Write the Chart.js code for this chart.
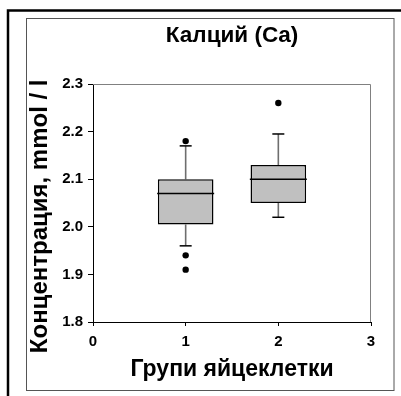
<!DOCTYPE html>
<html>
<head>
<meta charset="utf-8">
<script src="https://cdn.jsdelivr.net/npm/chart.js@4.4.0/dist/chart.umd.min.js"></script>
<style>
  html, body { margin: 0; padding: 0; background: #fff; }
  #wrap { width: 401px; height: 396px; }
</style>
</head>
<body>
<div id="wrap"><canvas id="chart" width="401" height="396"></canvas></div>
<script>
// values
const groups = [1, 2];
const q1 = [2.005, 2.05];
const median = [2.07, 2.10];
const q3 = [2.10, 2.13];
const whiskerLow = [1.96, 2.02];
const whiskerHigh = [2.17, 2.195];
const outlierGroup = [1, 1, 1, 2];
const outlierValue = [2.18, 1.94, 1.91, 2.26];

const titleText = "Калций (Ca)";
const xTitle = "Групи яйцеклетки";
// trailing spaces push the rotated title a bit lower, as in the original
const yTitle = "Концентрация, mmol / l    ";

Chart.defaults.font.family = "'Liberation Sans', Arial, sans-serif";
Chart.defaults.font.weight = "bold";
Chart.defaults.color = "#000";

// whisker segments, split by null so they are not joined
const whiskerPoints = [];
groups.forEach((g, i) => {
    whiskerPoints.push({ x: g, y: q3[i] }, { x: g, y: whiskerHigh[i] }, { x: g, y: null });
    whiskerPoints.push({ x: g, y: q1[i] }, { x: g, y: whiskerLow[i] }, { x: g, y: null });
});
const capPoints = [];
groups.forEach((g, i) => {
    capPoints.push({ x: g, y: whiskerHigh[i] }, { x: g, y: whiskerLow[i] });
});

// frames round the picture and the plot
const framePlugin = {
    id: "frames",
    beforeDraw(chart) {
        const ctx = chart.ctx;
        ctx.save();
        ctx.fillStyle = "#fff";
        ctx.fillRect(0, 0, chart.width, chart.height);
        ctx.strokeStyle = "#000";
        ctx.lineWidth = 2.5;
        ctx.beginPath();
        ctx.moveTo(8, chart.height);
        ctx.lineTo(8, 10.5);
        ctx.lineTo(chart.width, 10.5);
        ctx.stroke();
        ctx.strokeStyle = "#555";
        ctx.lineWidth = 1;
        ctx.strokeRect(26.5, 18.5, 367.5, 372);
        ctx.restore();
    },
    beforeDatasetsDraw(chart) {
        const { ctx, chartArea: a } = chart;
        ctx.save();
        ctx.strokeStyle = "#808080";
        ctx.lineWidth = 1;
        ctx.beginPath();
        ctx.moveTo(a.left, a.top + 0.5);
        ctx.lineTo(a.right - 0.5, a.top + 0.5);
        ctx.lineTo(a.right - 0.5, a.bottom);
        ctx.stroke();
        ctx.restore();
    }
};

new Chart(document.getElementById("chart"), {
    type: "bar",
    data: {
        datasets: [
            {
                label: "outliers",
                type: "line",
                showLine: false,
                data: outlierGroup.map((g, i) => ({ x: g, y: outlierValue[i] })),
                pointStyle: "circle",
                pointRadius: 3.2,
                backgroundColor: "#000",
                borderColor: "#000",
                borderWidth: 0,
                order: 0
            },
            {
                label: "caps",
                type: "line",
                showLine: false,
                data: capPoints,
                pointStyle: "line",
                pointRadius: 6,
                borderColor: "#000",
                borderWidth: 1.5,
                order: 1
            },
            {
                label: "median",
                type: "line",
                showLine: false,
                data: groups.map((g, i) => ({ x: g, y: median[i] })),
                pointStyle: "line",
                pointRadius: 28.5,
                borderColor: "#000",
                borderWidth: 1.5,
                order: 2
            },
            {
                label: "box",
                type: "bar",
                data: groups.map((g, i) => ({ x: g, y: [q1[i], q3[i]] })),
                backgroundColor: "#c0c0c0",
                borderColor: "#000",
                borderWidth: 1.5,
                borderSkipped: false,
                barPercentage: 0.6,
                categoryPercentage: 1,
                order: 3
            },
            {
                label: "whiskers",
                type: "line",
                data: whiskerPoints,
                spanGaps: false,
                pointRadius: 0,
                borderColor: "#6e6e6e",
                borderWidth: 1.6,
                order: 4
            }
        ]
    },
    options: {
        responsive: false,
        animation: false,
        events: [],
        layout: { padding: { left: 26, right: 23, top: 19, bottom: 8 } },
        plugins: {
            legend: { display: false },
            tooltip: { enabled: false },
            title: {
                display: true,
                text: titleText,
                fullSize: false,
                color: "#000",
                font: { size: 22.5, weight: "bold" },
                padding: { top: 3, bottom: 35 }
            }
        },
        scales: {
            x: {
                type: "linear",
                min: 0,
                max: 3,
                offset: false,
                ticks: { stepSize: 1, padding: 7, font: { size: 15, weight: "bold" }, color: "#000" },
                grid: { display: true, drawOnChartArea: false, tickLength: 4, color: "#000", offset: false },
                border: { color: "#000", width: 1 },
                title: { display: true, text: xTitle, font: { size: 23, weight: "bold" }, color: "#000", padding: { top: 0, bottom: 5 } },
                afterFit(scale) {
                    scale.height = 66;
                    scale.paddingLeft = 0;
                    scale.paddingRight = 0;
                }
            },
            y: {
                type: "linear",
                min: 1.8,
                max: 2.3,
                ticks: { stepSize: 0.1, padding: 5, font: { size: 15, weight: "bold" }, color: "#000", callback: v => v.toFixed(1) },
                grid: { display: true, drawOnChartArea: false, tickLength: 5, color: "#000" },
                border: { color: "#000", width: 1 },
                title: { display: true, text: yTitle, font: { size: 24, weight: "bold" }, color: "#000", padding: { top: 0, bottom: 0 } },
                afterFit(scale) {
                    scale.width = 67;
                    scale.paddingTop = 0;
                    scale.paddingBottom = 0;
                }
            }
        }
    },
    plugins: [framePlugin]
});
</script>
</body>
</html>
